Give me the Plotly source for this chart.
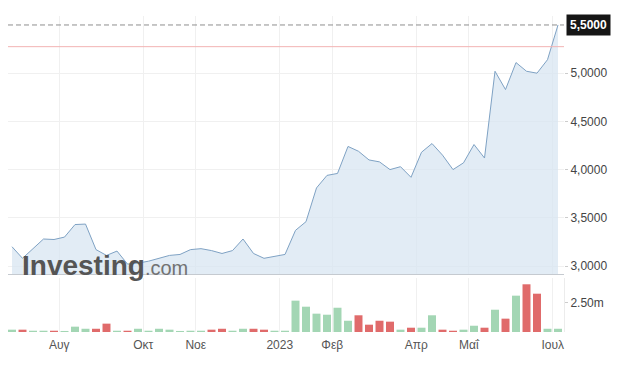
import datetime as dt
import plotly.graph_objects as go

# ---- data -------------------------------------------------------------
start_date = dt.date(2022, 7, 3)          # weekly points (Sunday-dated)
prices = [3.20, 3.08, 3.18, 3.28, 3.275, 3.30, 3.43, 3.435, 3.17, 3.11,
          3.155, 3.02, 3.03, 3.05, 3.08, 3.11, 3.12, 3.17, 3.18, 3.16,
          3.13, 3.16, 3.28, 3.13, 3.08, 3.10, 3.12, 3.37, 3.46, 3.81,
          3.94, 3.96, 4.24, 4.19, 4.10, 4.08, 4.00, 4.03, 3.92, 4.18,
          4.27, 4.15, 4.00, 4.07, 4.26, 4.12, 5.02, 4.83, 5.11, 5.02,
          5.00, 5.14, 5.50]
volumes_m = [0.20, 0.20, 0.11, 0.11, 0.11, 0.03, 0.46, 0.28, 0.28, 0.72,
             0.11, 0.11, 0.28, 0.11, 0.28, 0.20, 0.03, 0.11, 0.11, 0.20,
             0.28, 0.11, 0.28, 0.28, 0.20, 0.11, 0.11, 2.70, 2.18, 1.58,
             1.49, 2.09, 0.97, 1.44, 0.63, 0.97, 0.89, 0.20, 0.37, 0.37,
             1.44, 0.20, 0.11, 0.20, 0.54, 0.37, 1.92, 1.15, 3.13, 4.11,
             3.30, 0.28, 0.28]
reference_level = 5.275
tick_months = [(2022, 8), (2022, 10), (2022, 11), (2023, 1), (2023, 2),
               (2023, 4), (2023, 5), (2023, 7)]
tick_labels = ["Αυγ", "Οκτ", "Νοε", "2023", "Φεβ", "Απρ", "Μαΐ", "Ιουλ"]
price_ticks = [3.0, 3.5, 4.0, 4.5, 5.0]
volume_ticks = [2.5]

# ---- derived ----------------------------------------------------------
dates = [start_date + dt.timedelta(days=7 * i) for i in range(len(prices))]
dts = [dt.datetime.combine(d, dt.time()) for d in dates]

tickvals = []
for (yy, mm) in tick_months:
    first = next(d for d in dts if d.year == yy and d.month == mm)
    tickvals.append(first - dt.timedelta(days=3.5))

GREEN = "#a3d6b4"
RED = "#e06b6b"
bar_colors = [GREEN] + [GREEN if prices[i] >= prices[i - 1] else RED
                        for i in range(1, len(prices))]

x_range = [dts[0] - dt.timedelta(days=0.381 * 7),
           dts[-1] + dt.timedelta(days=0.571 * 7)]

FONT = "Liberation Sans, Arial, sans-serif"

fig = go.Figure()
fig.add_trace(go.Scatter(
    x=dts, y=prices, mode="lines",
    line=dict(color="#7fa2c4", width=1),
    fill="tozeroy", fillcolor="rgba(214,228,241,0.7)",
    xaxis="x", yaxis="y", hoverinfo="skip", showlegend=False))
fig.add_trace(go.Bar(
    x=dts, y=volumes_m, marker=dict(color=bar_colors, line=dict(width=0)),
    width=7 * 86400000 * 0.76,
    xaxis="x2", yaxis="y2", hoverinfo="skip", showlegend=False))

grid = "#f0f0f0"
fig.update_layout(
    width=627, height=377,
    margin=dict(l=8, r=63, t=16, b=45),
    paper_bgcolor="white", plot_bgcolor="white",
    separators=",.",
    font=dict(family=FONT, size=12, color="#555"),
    xaxis=dict(domain=[0, 1], range=x_range, anchor="y",
               tickvals=tickvals, showticklabels=False,
               showgrid=True, gridcolor=grid, gridwidth=1,
               showline=True, linecolor="#c5cad0", linewidth=1,
               zeroline=False, ticks=""),
    yaxis=dict(domain=[0.1835, 1], range=[2.917, 5.593], side="right",
               anchor="x", tickvals=price_ticks, tickformat=".4f",
               showgrid=True, gridcolor=grid, zeroline=False,
               ticks="outside", ticklen=3, tickcolor="#cccccc",
               tickfont=dict(size=12, color="#444")),
    xaxis2=dict(domain=[0, 1], range=x_range, anchor="y2",
                tickvals=tickvals, ticktext=tick_labels,
                showgrid=True, gridcolor=grid, zeroline=False,
                ticks="outside", ticklen=2, tickcolor="rgba(0,0,0,0)",
                tickfont=dict(size=12, color="#555"), showline=False),
    yaxis2=dict(domain=[0, 0.171], range=[0, 4.655], side="right",
                anchor="x2", tickvals=volume_ticks,
                ticktext=[f"{v:.2f}m" for v in volume_ticks],
                showgrid=False, zeroline=False,
                ticks="outside", ticklen=3, tickcolor="#cccccc",
                showline=True, linecolor="#ececec",
                tickfont=dict(size=12, color="#444")),
    bargap=0.24,
)

# reference (red) line and last-price dashed line
fig.add_shape(type="line", xref="paper", yref="y", x0=0, x1=1,
              y0=reference_level, y1=reference_level,
              line=dict(color="#f2b3b3", width=1))
fig.add_shape(type="line", xref="paper", yref="y", x0=0, x1=1,
              y0=prices[-1], y1=prices[-1],
              line=dict(color="#8f8f8f", width=1, dash="5px,3px"))
fig.add_annotation(xref="paper", yref="y", x=1, y=prices[-1],
                   xanchor="left", yanchor="middle", xshift=2,
                   text=f"<b>{prices[-1]:.4f}</b>".replace(".", ","),
                   showarrow=False, bgcolor="#161616", borderpad=3,
                   font=dict(color="white", size=12, family=FONT))

# watermark
fig.add_annotation(xref="paper", yref="paper", x=0.022, y=0.155,
                   xanchor="left", yanchor="bottom", showarrow=False,
                   text="<b>Investing</b><span style='font-size:20px;color:#727272'>.com</span>",
                   font=dict(size=28, color="#555555", family=FONT))

fig.write_html("out.html")
